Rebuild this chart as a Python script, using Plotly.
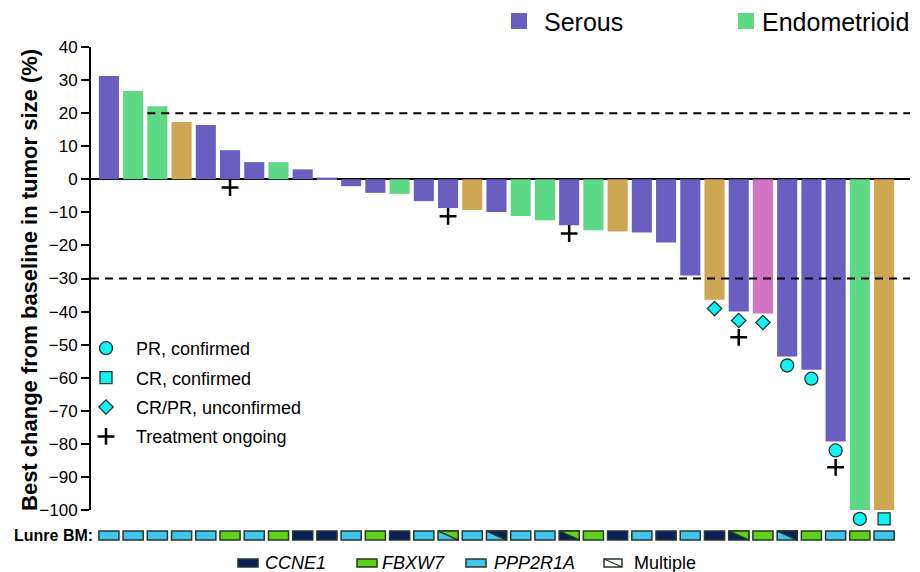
import plotly.graph_objects as go

# ---------------- data ----------------
patients = [f"Pt{i}" for i in range(1, 34)]
best_change = [31.2, 26.7, 22.1, 17.3, 16.4, 8.8, 5.2, 5.2, 3.0, 0.5,
               -2.1, -4.1, -4.4, -6.6, -8.7, -9.3, -9.9, -11.1, -12.4, -13.9,
               -15.4, -15.8, -16.1, -19.1, -29.1, -36.4, -40.0, -40.6, -53.6, -57.6,
               -79.3, -100.0, -100.0]
histology = ["Serous", "Endometrioid", "Endometrioid", "Histology 3", "Serous",
             "Serous", "Serous", "Endometrioid", "Serous", "Serous",
             "Serous", "Serous", "Endometrioid", "Serous", "Serous",
             "Histology 3", "Serous", "Endometrioid", "Endometrioid", "Serous",
             "Endometrioid", "Histology 3", "Serous", "Serous", "Serous",
             "Histology 3", "Serous", "Histology 4", "Serous", "Serous",
             "Serous", "Endometrioid", "Histology 3"]
response = [""] * 25 + ["CR/PR, unconfirmed"] * 3 + ["PR, confirmed"] * 4 + ["CR, confirmed"]
ongoing = [False] * 33
for k in (5, 14, 19, 26, 30):
    ongoing[k] = True
biomarker = ["PPP2R1A", "PPP2R1A", "PPP2R1A", "PPP2R1A", "PPP2R1A",
             "FBXW7", "PPP2R1A", "FBXW7", "CCNE1", "CCNE1",
             "PPP2R1A", "FBXW7", "CCNE1", "PPP2R1A", "PPP2R1A/FBXW7",
             "PPP2R1A", "PPP2R1A/CCNE1", "PPP2R1A", "PPP2R1A", "CCNE1/FBXW7",
             "FBXW7", "CCNE1", "PPP2R1A", "CCNE1", "PPP2R1A",
             "CCNE1", "CCNE1/FBXW7", "FBXW7", "PPP2R1A/CCNE1", "FBXW7",
             "PPP2R1A", "FBXW7", "PPP2R1A"]
y_ticks = list(range(-100, 41, 10))

# ---------------- styles ----------------
FONT = "Liberation Sans, Arial, sans-serif"
hist_colors = {"Serous": "#6A5FC1", "Endometrioid": "#5DD985",
               "Histology 3": "#CFA652", "Histology 4": "#D373C3"}
bm_colors = {"CCNE1": "#0B1F5B", "FBXW7": "#5FD11B", "PPP2R1A": "#40C4F0"}
BM_EDGE = "#263826"
CYAN = "#12F2F2"
MK_EDGE = "#1F3535"
BAR_W = 0.83
xpos = list(range(len(patients)))

# pixel layout (page coordinates; the page body adds an 8px offset)
OFF = 8
W, H = 920 - OFF, 572 - OFF
LEFT_PX, RIGHT_PX = 91, 910
TOP, BOTTOM_PX = 47, 544
PLOT_W = RIGHT_PX - LEFT_PX
PLOT_H = BOTTOM_PX - TOP
Y_MIN, Y_MAX = -100, 40
AX_BOTTOM_PX = 510
PX_PER_UNIT = (AX_BOTTOM_PX - TOP) / (Y_MAX - Y_MIN)
MK_BOTTOM_PX = 532
Y3_MIN = Y_MIN - (MK_BOTTOM_PX - AX_BOTTOM_PX) / PX_PER_UNIT
Y_DOM = [(BOTTOM_PX - AX_BOTTOM_PX) / PLOT_H, 1]

fig = go.Figure()

# histology bars
for h in ["Serous", "Endometrioid", "Histology 3", "Histology 4"]:
    idx = [i for i in xpos if histology[i] == h]
    fig.add_trace(go.Bar(
        x=[xpos[i] for i in idx], y=[best_change[i] for i in idx],
        width=BAR_W, marker=dict(color=hist_colors[h], line=dict(width=0)),
        name=h, showlegend=False, customdata=[patients[i] for i in idx],
        hovertemplate="%{customdata}: %{y}%<extra>" + h + "</extra>"))

# response markers (on y3: same scale as y, extended below -100)
resp_style = {"PR, confirmed": ("circle", 13),
              "CR, confirmed": ("square", 12),
              "CR/PR, unconfirmed": ("diamond", 11)}
for r, (sym, sz) in resp_style.items():
    idx = [i for i in xpos if response[i] == r]
    fig.add_trace(go.Scatter(
        x=[xpos[i] for i in idx], y=[min(best_change[i], 0) - 2.7 for i in idx],
        yaxis="y3", mode="markers", name=r, legend="legend2", legendgroup=r,
        marker=dict(symbol=sym, size=sz, color=CYAN, line=dict(color=MK_EDGE, width=1.3)),
        cliponaxis=False, hoverinfo="skip"))

# treatment ongoing
idx = [i for i in xpos if ongoing[i]]
fig.add_trace(go.Scatter(
    x=[xpos[i] for i in idx],
    y=[min(best_change[i], 0) - (7.8 if response[i] else 2.5) for i in idx],
    yaxis="y3", mode="markers", name="Treatment ongoing", legend="legend2",
    legendgroup="ongoing",
    marker=dict(symbol="cross-thin", size=12, color="black", line=dict(color="black", width=2.5)),
    cliponaxis=False, hoverinfo="skip"))

# biomarker row (lower-left colour = first gene)
for g in ["CCNE1", "FBXW7", "PPP2R1A"]:
    idx = [i for i in xpos if biomarker[i].split("/")[0] == g]
    fig.add_trace(go.Bar(
        x=[xpos[i] for i in idx], y=[1] * len(idx), base=0, width=BAR_W,
        yaxis="y2", marker=dict(color=bm_colors[g], line=dict(color=BM_EDGE, width=1.5)),
        showlegend=False, customdata=[biomarker[i] for i in idx],
        hovertemplate="%{customdata}<extra></extra>", cliponaxis=False))

# multiple: upper-right triangle in second gene colour
for g in ["CCNE1", "FBXW7"]:
    tx, ty = [], []
    for i in xpos:
        parts = biomarker[i].split("/")
        if len(parts) == 2 and parts[1] == g:
            tx += [i - BAR_W / 2, i + BAR_W / 2, i + BAR_W / 2, i - BAR_W / 2, None]
            ty += [1, 1, 0, 1, None]
    fig.add_trace(go.Scatter(
        x=tx, y=ty, yaxis="y2", mode="lines", fill="toself", fillcolor=bm_colors[g],
        line=dict(color=BM_EDGE, width=1.5), showlegend=False, hoverinfo="skip",
        cliponaxis=False))

# ---------------- layout ----------------
X_MIN, X_MAX = -0.74, 33.07
shapes = [
    dict(type="line", xref="x", yref="y", x0=1.585, x1=X_MAX, y0=20, y1=20,
         line=dict(color="black", width=2, dash="8px,6px")),
    dict(type="line", xref="paper", yref="y", x0=0, x1=1, y0=-30, y1=-30,
         line=dict(color="black", width=2, dash="8px,6px")),
]
annotations = []

# y-axis title
annotations.append(dict(
    text="<b>Best change from baseline in tumor size (%)</b>", textangle=-90,
    xref="paper", yref="paper", x=0, y=(Y_DOM[0] + Y_DOM[1]) / 2 - 0.003,
    xshift=30 - LEFT_PX, xanchor="center", yanchor="middle", showarrow=False,
    font=dict(family=FONT, size=22, color="black")))

# top histology legend (px offsets relative to plot top-left)
for name, x_sq, x_txt in [("Serous", 428, 451), ("Endometrioid", 655, 669)]:
    shapes.append(dict(type="rect", xref="paper", yref="paper", xsizemode="pixel",
                       ysizemode="pixel", xanchor=0, yanchor=1,
                       x0=x_sq - 8, x1=x_sq + 8, y0=18, y1=34,
                       fillcolor=hist_colors[name], line=dict(width=0)))
    annotations.append(dict(text=name, xref="paper", yref="paper", x=0, y=1,
                            xshift=x_txt, yshift=25, xanchor="left", yanchor="middle",
                            showarrow=False, font=dict(family=FONT, size=25, color="black")))

# bottom biomarker legend
bm_leg = [("CCNE1", 157, 172), ("FBXW7", 276, 289), ("PPP2R1A", 385, 401), ("Multiple", 522, 541)]
for name, x_r, x_t in bm_leg:
    fill = bm_colors.get(name, "white")
    w = 10 if name != "Multiple" else 9
    shapes.append(dict(type="rect", xref="paper", yref="paper", xsizemode="pixel",
                       ysizemode="pixel", xanchor=0, yanchor=0,
                       x0=x_r - w, x1=x_r + w, y0=-23, y1=-15,
                       fillcolor=fill, line=dict(color=BM_EDGE, width=1.5)))
    if name == "Multiple":
        shapes.append(dict(type="line", xref="paper", yref="paper", xsizemode="pixel",
                           ysizemode="pixel", xanchor=0, yanchor=0,
                           x0=x_r - w, x1=x_r + w, y0=-15, y1=-23,
                           line=dict(color=BM_EDGE, width=1.3)))
    txt = name if name == "Multiple" else f"<i>{name}</i>"
    annotations.append(dict(text=txt, xref="paper", yref="paper", x=0, y=0,
                            xshift=x_t, yshift=-19, xanchor="left", yanchor="middle",
                            showarrow=False, font=dict(family=FONT, size=18, color="black")))

annotations.append(dict(text="<b>Lunre BM:</b>", xref="paper", yref="y2", x=0, y=0.5,
                        xshift=4, xanchor="right", yanchor="middle", showarrow=False,
                        font=dict(family=FONT, size=16, color="black")))

fig.update_layout(
    width=W, height=H,
    margin=dict(l=LEFT_PX - OFF, r=W - (RIGHT_PX - OFF), t=TOP - OFF,
                b=H - (BOTTOM_PX - OFF), autoexpand=False),
    paper_bgcolor="white", plot_bgcolor="rgba(0,0,0,0)",
    barmode="overlay", bargap=0.17,
    font=dict(family=FONT, size=17, color="black"),
    xaxis=dict(range=[X_MIN, X_MAX], visible=False, fixedrange=True, automargin=False),
    yaxis=dict(domain=Y_DOM, range=[Y_MIN, Y_MAX],
               tickvals=y_ticks, ticks="outside", ticklen=8, tickwidth=2,
               tickcolor="black", showline=True, linewidth=2, linecolor="black",
               showgrid=False, zeroline=True, zerolinecolor="black", zerolinewidth=2,
               automargin=False,
               tickfont=dict(family=FONT, size=17, color="black")),
    yaxis2=dict(domain=[(BOTTOM_PX - 540.9) / PLOT_H, (BOTTOM_PX - 530.1) / PLOT_H],
                range=[-0.1, 1.1], visible=False, anchor="x", automargin=False),
    yaxis3=dict(domain=[(BOTTOM_PX - MK_BOTTOM_PX) / PLOT_H, 1], range=[Y3_MIN, Y_MAX],
                visible=False, anchor="x", automargin=False),
    legend2=dict(x=(76 - LEFT_PX) / PLOT_W, y=(BOTTOM_PX - 330) / PLOT_H, xanchor="left",
                 yanchor="top", traceorder="grouped", tracegroupgap=3,
                 itemsizing="trace", itemwidth=50,
                 bgcolor="rgba(0,0,0,0)", font=dict(family=FONT, size=18, color="black")),
    shapes=shapes, annotations=annotations,
)

fig.write_html("out.html")
